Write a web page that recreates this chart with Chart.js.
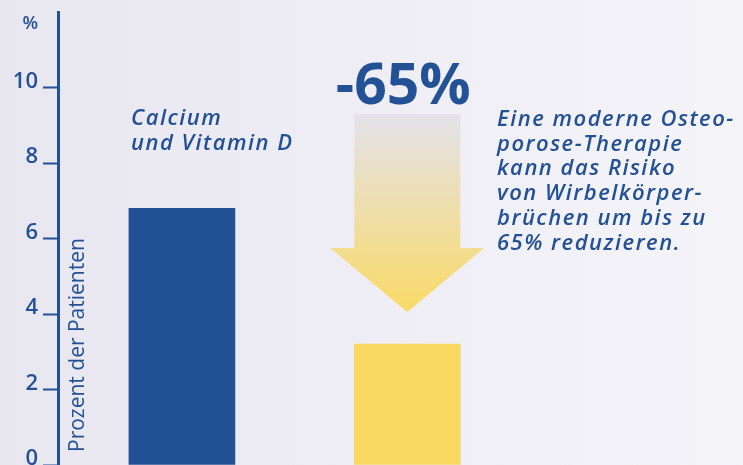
<!DOCTYPE html>
<html>
<head>
<meta charset="utf-8">
<script src="https://cdn.jsdelivr.net/npm/chart.js@4.4.0/dist/chart.umd.min.js"></script>
<style>
  html, body { margin: 0; padding: 0; }
  #wrap { width: 743px; height: 465px; position: relative; }
</style>
</head>
<body>
<div id="wrap"><canvas id="osteo-chart"></canvas></div>
<script>
"use strict";

// data
const groups = ['Calcium und Vitamin D', 'Osteoporose-Therapie'];
const groupPos = [1, 2];
const patientPercent = [6.8, 3.2];
const yTicks = [0, 2, 4, 6, 8, 10];

const barColors = ['#235195', '#f9d962'];
const reductionLabel = '-65%';
const leftLabelLines = ['Calcium', 'und Vitamin D'];
const noteLines = [
  'Eine moderne Osteo-',
  'porose-Therapie',
  'kann das Risiko',
  'von Wirbelkörper-',
  'brüchen um bis zu',
  '65% reduzieren.'
];
const axisTitle = 'Prozent der Patienten';

const BLUE = '#235195';
const FONT = '"Open Sans", "Noto Sans", sans-serif';

const decorPlugin = {
  id: 'decor',
  beforeDraw(chart) {
    const { ctx, width, height } = chart;
    const g = ctx.createLinearGradient(0, 0, width, 0);
    g.addColorStop(0, '#e8e7f0');
    g.addColorStop(1, '#f5f4f9');
    ctx.save();
    ctx.fillStyle = g;
    ctx.fillRect(0, 0, width, height);
    ctx.restore();
  },
  beforeDatasetsDraw(chart) {
    // gradient arrow above the second bar
    const { ctx } = chart;
    const y = chart.scales.y;
    const bar = chart.getDatasetMeta(0).data[1];
    const half = bar.width / 2;
    const cx = bar.x;
    const top = y.getPixelForValue(9.3);
    const neck = y.getPixelForValue(5.75);
    const tip = y.getPixelForValue(4.05);
    const wing = half + 24;
    const g = ctx.createLinearGradient(0, top, 0, tip);
    g.addColorStop(0, '#e4e2eb');
    g.addColorStop(1, '#f9da66');
    ctx.save();
    ctx.fillStyle = g;
    ctx.beginPath();
    ctx.moveTo(cx - half, top);
    ctx.lineTo(cx + half, top);
    ctx.lineTo(cx + half, neck);
    ctx.lineTo(cx + wing, neck);
    ctx.lineTo(cx, tip);
    ctx.lineTo(cx - wing, neck);
    ctx.lineTo(cx - half, neck);
    ctx.closePath();
    ctx.fill();
    ctx.restore();
  },
  afterDraw(chart) {
    const { ctx, chartArea } = chart;
    const bars = chart.getDatasetMeta(0).data;
    ctx.save();
    ctx.fillStyle = BLUE;

    // unit on top of the axis
    ctx.font = '600 18px ' + FONT;
    ctx.textAlign = 'right';
    ctx.textBaseline = 'alphabetic';
    ctx.fillText('%', 38, 29);

    // axis title inside the plot
    ctx.save();
    ctx.translate(chartArea.left + 26, chartArea.bottom - 13);
    ctx.rotate(-Math.PI / 2);
    ctx.textAlign = 'left';
    ctx.font = '21px ' + FONT;
    ctx.fillText(axisTitle, 0, 0);
    ctx.restore();

    // label above first bar
    ctx.font = 'italic 600 22px ' + FONT;
    ctx.letterSpacing = '1.5px';
    ctx.textAlign = 'left';
    leftLabelLines.forEach((line, i) => {
      ctx.fillText(line, bars[0].x - bars[0].width / 2 + 2, 125 + i * 25);
    });

    // reduction figure
    ctx.letterSpacing = '0px';
    ctx.font = 'bold 57px ' + FONT;
    ctx.textAlign = 'center';
    ctx.fillText(reductionLabel, bars[1].x - 4, 104);

    // note on the right
    ctx.font = 'italic 600 22px ' + FONT;
    ctx.letterSpacing = '1.5px';
    ctx.textAlign = 'left';
    noteLines.forEach((line, i) => {
      ctx.fillText(line, 497, 126 + i * 24.7);
    });
    ctx.restore();
  }
};

const config = {
  type: 'bar',
  data: {
    datasets: [{
      data: groupPos.map((x, i) => ({ x, y: patientPercent[i] })),
      backgroundColor: barColors,
      borderWidth: 0,
      barThickness: 106
    }]
  },
  options: {
    responsive: true,
    maintainAspectRatio: false,
    animation: false,
    layout: { padding: { top: 12, left: 0, right: 0, bottom: 0 } },
    plugins: {
      legend: { display: false },
      tooltip: { enabled: false }
    },
    scales: {
      x: {
        type: 'linear',
        display: false,
        offset: false,
        min: 0.45,
        max: 3.49
      },
      y: {
        min: 0,
        max: 12,
        afterBuildTicks(scale) {
          scale.ticks = yTicks.map(v => ({ value: v }));
        },
        afterFit(scale) {
          scale.width = 58;
          scale.paddingTop = 0;
          scale.paddingBottom = 0;
        },
        border: { color: BLUE, width: 3 },
        grid: {
          drawOnChartArea: false,
          tickLength: 15,
          tickWidth: 2,
          tickColor: BLUE
        },
        ticks: {
          color: BLUE,
          padding: 5,
          labelOffset: -6,
          font: { family: FONT, size: 22, weight: 600 }
        }
      }
    }
  },
  plugins: [decorPlugin]
};

new Chart(document.getElementById('osteo-chart'), config);
</script>
</body>
</html>
